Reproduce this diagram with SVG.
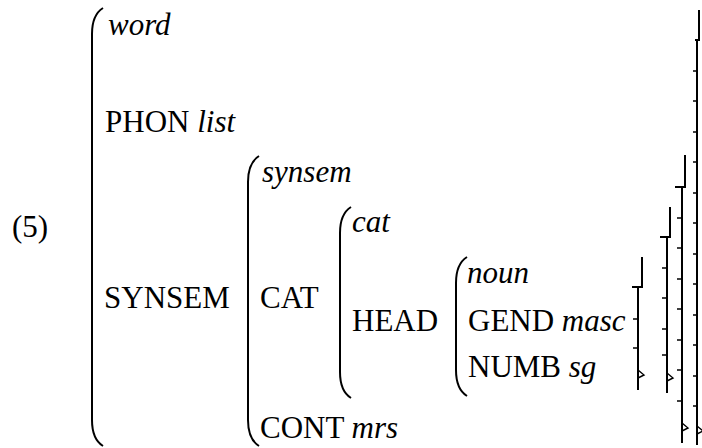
<svg xmlns="http://www.w3.org/2000/svg" width="702" height="448" viewBox="0 0 702 448">
<style>
.x{font-size:31px;fill:#000}
.i{font-style:italic}
.p{fill:none;stroke:#000;stroke-width:2}
.b{fill:none;stroke:#000;stroke-width:2}
.t{fill:none;stroke:#000;stroke-width:1.4}
</style>
<rect width="702" height="448" fill="#fff"/>
<g class="x" font-family="Liberation Serif">
<text x="12" y="237">(5)</text>
<g id="avm-word">
<path class="p" d="M103,8 C95,13 92,22 92,34 L92,420 C92,432 95,441 103,446"/>
<text class="i" x="108" y="35">word</text>
<text x="105" y="132">PHON <tspan class="i">list</tspan></text>
<text x="104" y="308">SYNSEM</text>
</g>
<g id="avm-synsem">
<path class="p" d="M259,156 C251,161 248,170 248,182 L248,420 C248,432 251,441 259,446"/>
<text class="i" x="262" y="182">synsem</text>
<text x="260" y="308">CAT</text>
<text x="260" y="438">CONT <tspan class="i">mrs</tspan></text>
</g>
<g id="avm-cat">
<path class="p" d="M351,207 C343,212 340,221 340,233 L340,372 C340,384 343,393 351,398"/>
<text class="i" x="352" y="232">cat</text>
<text x="352" y="331">HEAD</text>
</g>
<g id="avm-noun">
<path class="p" d="M467,257 C459,262 456,271 456,283 L456,370 C456,382 459,391 467,396"/>
<text class="i" x="467" y="283">noun</text>
<text x="468" y="331">GEND <tspan class="i">masc</tspan></text>
<text x="468" y="377">NUMB <tspan class="i">sg</tspan></text>
</g>
</g>
<g id="right-brackets">
<path class="b" d="M699,10 V40 H695 M697,40 V445" font-family="DejaVu Serif"/>
<path class="t" d="M693,71 H697 M693,101 H697 M693,132 H697 M693,162 H697 M693,193 H697 M693,223 H697 M693,254 H697 M693,284 H697 M693,315 H697 M693,345 H697 M693,376 H697 M693,406 H697 M697,426 L703,431 L697,434"/>
<path class="b" d="M685,155 V187 H675 M682,187 V443" font-family="Liberation Mono"/>
<path class="t" d="M677,218 H682 M677,248 H682 M677,279 H682 M677,309 H682 M677,340 H682 M677,370 H682 M677,401 H682 M682,423 L688,428 L682,431"/>
<path class="b" d="M670,207 V237 H660 M667,237 V393" font-family="Lato"/>
<path class="t" d="M662,268 H667 M662,298 H667 M662,329 H667 M662,355 H667 M667,373 L673,378 L667,381"/>
<path class="b" d="M642,257 V287 H632 M638,287 V390" font-family="DejaVu Sans"/>
<path class="t" d="M633,319 H638 M633,348 H638 M638,370 L644,375 L638,378"/>
</g>
</svg>
